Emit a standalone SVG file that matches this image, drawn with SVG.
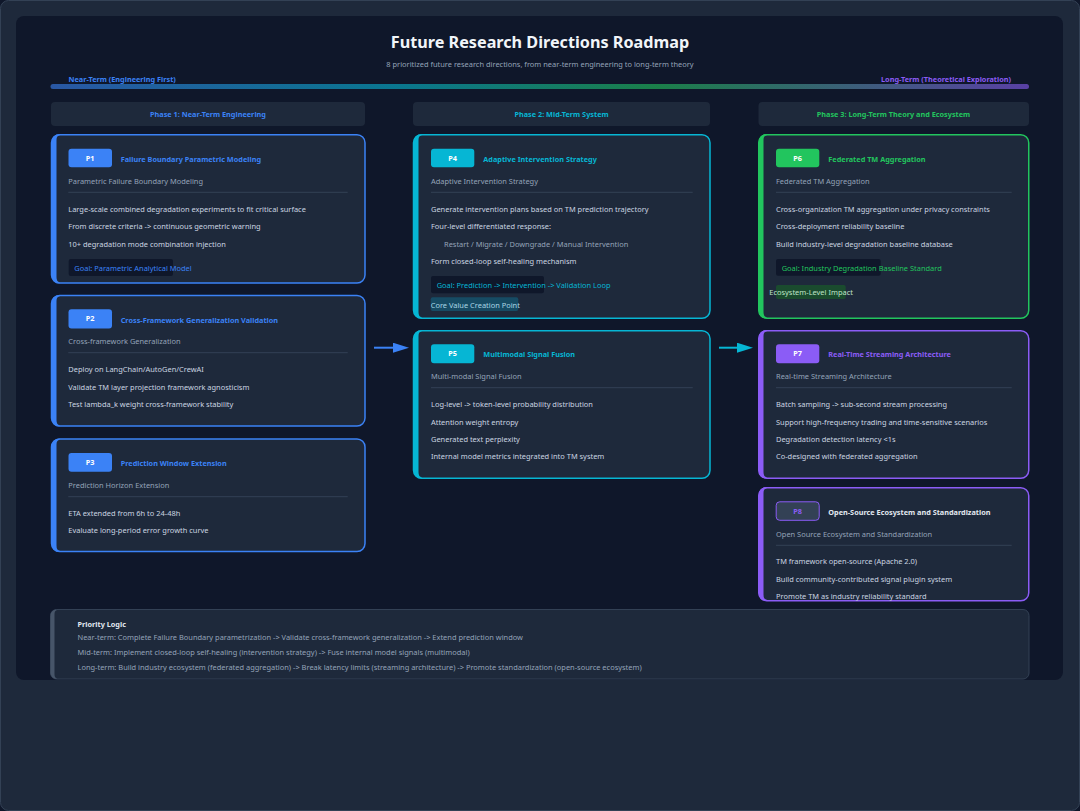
<svg xmlns="http://www.w3.org/2000/svg" width="1080" height="811" viewBox="0 0 1080 811">
<defs>
<linearGradient id="gbar" x1="0" y1="0" x2="1" y2="0">
<stop offset="0" stop-color="#3b82f6" stop-opacity="0.6"/>
<stop offset="0.35" stop-color="#06b6d4" stop-opacity="0.6"/>
<stop offset="0.62" stop-color="#22c55e" stop-opacity="0.6"/>
<stop offset="1" stop-color="#8b5cf6" stop-opacity="0.6"/>
</linearGradient>
<marker id="ahB" markerUnits="userSpaceOnUse" markerWidth="16" markerHeight="10" refX="7" refY="5" orient="auto"><path d="M0,0 L16,5 L0,10 Z" fill="#3b82f6"/></marker>
<marker id="ahC" markerUnits="userSpaceOnUse" markerWidth="16" markerHeight="10" refX="7" refY="5" orient="auto"><path d="M0,0 L16,5 L0,10 Z" fill="#06b6d4"/></marker>
<style>
text{font-family:"Noto Sans","Open Sans","Liberation Sans",sans-serif;font-size:7.45px}
.card{fill:#1e293b;stroke-width:1.5}
.bold{font-weight:700;font-size:7.3px}
.sub{fill:#94a3b8}
.item{fill:#cbd5e1}
.div{stroke:#334155;stroke-width:1}
.badge-t{fill:#ffffff;font-weight:700;font-size:7.3px;text-anchor:middle}
.ph{fill:#1e293b}
.pht{font-weight:700;font-size:7.3px;text-anchor:middle}
.goal{fill:#0f172a}
.blue{fill:#3b82f6}.cyan{fill:#06b6d4}.green{fill:#22c55e}.purple{fill:#8b5cf6}
.sblue{stroke:#3b82f6}.scyan{stroke:#06b6d4}.sgreen{stroke:#22c55e}.spurple{stroke:#8b5cf6}
.title{font-size:16.2px;font-weight:700;fill:#f1f5f9;text-anchor:middle}
</style>
</defs>

<rect x="0" y="0" width="1080" height="811" fill="#0f172a"/>
<rect x="0.5" y="0.5" width="1079" height="810" rx="8" fill="#1e293b" stroke="#334155"/>
<rect x="16" y="16" width="1047" height="664" rx="8" fill="#0f172a"/>

<g id="header">
<text x="540" y="47.5" class="title">Future Research Directions Roadmap</text>
<text x="540" y="67" text-anchor="middle" class="sub">8 prioritized future research directions, from near-term engineering to long-term theory</text>
<rect x="50.5" y="84" width="978.5" height="5" rx="2.5" fill="url(#gbar)"/>
<text x="68.5" y="82" class="bold blue">Near-Term (Engineering First)</text>
<text x="1011" y="82" class="bold purple" text-anchor="end">Long-Term (Theoretical Exploration)</text>
</g>

<g id="phases">
<rect class="ph" x="51" y="102" width="314" height="24" rx="4"/>
<text class="pht blue" x="208" y="117">Phase 1: Near-Term Engineering</text>
<rect class="ph" x="413" y="102" width="297" height="24" rx="4"/>
<text class="pht cyan" x="561.5" y="117">Phase 2: Mid-Term System</text>
<rect class="ph" x="758.5" y="102" width="270.5" height="24" rx="4"/>
<text class="pht green" x="893.5" y="117">Phase 3: Long-Term Theory and Ecosystem</text>
</g>

<g id="connectors">
<line x1="374" y1="347.7" x2="400" y2="347.7" stroke="#3b82f6" stroke-width="2" marker-end="url(#ahB)"/>
<line x1="719" y1="347.7" x2="744" y2="347.7" stroke="#06b6d4" stroke-width="2" marker-end="url(#ahC)"/>
</g>

<g id="P1">
<rect class="card sblue" x="51.5" y="134.75" width="313.5" height="148.25" rx="8"/>
<path class="blue" d="M59.5,134 A8,8 0 0 0 51.5,142 V275 A8,8 0 0 0 59.5,283.5 V282 Q56.5,282 56.5,277 V140 Q56.5,135.5 59.5,135.5 Z"/>
<rect class="blue" x="68.5" y="148.7" width="43.5" height="18.6" rx="3"/>
<text class="badge-t" x="90.2" y="160.5">P1</text>
<text class="bold blue" x="120.7" y="161.7">Failure Boundary Parametric Modeling</text>
<text class="sub" x="68.3" y="184.2">Parametric Failure Boundary Modeling</text>
<line class="div" x1="68.3" y1="192.3" x2="347.7" y2="192.3"/>
<text class="item" x="68.3" y="211.8">Large-scale combined degradation experiments to fit critical surface</text>
<text class="item" x="68.3" y="229.2">From discrete criteria -&gt; continuous geometric warning</text>
<text class="item" x="68.3" y="246.8">10+ degradation mode combination injection</text>
<rect class="goal" x="68.7" y="259" width="104.3" height="17" rx="2"/>
<text class="blue" x="74.3" y="270.5">Goal: Parametric Analytical Model</text>
</g>

<g id="P2">
<rect class="card sblue" x="51.5" y="295.5" width="313.5" height="130.5" rx="8"/>
<path class="blue" d="M59.5,295 A8,8 0 0 0 51.5,303 V418 A8,8 0 0 0 59.5,426.5 V425 Q56.5,425 56.5,420 V301 Q56.5,296.5 59.5,296.5 Z"/>
<rect class="blue" x="68.5" y="309.3" width="43.5" height="19.2" rx="3"/>
<text class="badge-t" x="90.2" y="321.4">P2</text>
<text class="bold blue" x="120.7" y="322.5">Cross-Framework Generalization Validation</text>
<text class="sub" x="68.3" y="343.8">Cross-framework Generalization</text>
<line class="div" x1="68.3" y1="352.7" x2="347.7" y2="352.7"/>
<text class="item" x="68.3" y="372.2">Deploy on LangChain/AutoGen/CrewAI</text>
<text class="item" x="68.3" y="389.8">Validate TM layer projection framework agnosticism</text>
<text class="item" x="68.3" y="406.8">Test lambda_k weight cross-framework stability</text>
</g>

<g id="P3">
<rect class="card sblue" x="51.5" y="439" width="313.5" height="112.5" rx="8"/>
<path class="blue" d="M59.5,438.5 A8,8 0 0 0 51.5,446.5 V544 A8,8 0 0 0 59.5,552 V550.5 Q56.5,550.5 56.5,545.5 V444.5 Q56.5,440 59.5,440 Z"/>
<rect class="blue" x="68.5" y="453" width="43.5" height="18.7" rx="3"/>
<text class="badge-t" x="90.2" y="465">P3</text>
<text class="bold blue" x="120.7" y="465.8">Prediction Window Extension</text>
<text class="sub" x="68.3" y="487.5">Prediction Horizon Extension</text>
<line class="div" x1="68.3" y1="496.7" x2="347.7" y2="496.7"/>
<text class="item" x="68.3" y="515.5">ETA extended from 6h to 24-48h</text>
<text class="item" x="68.3" y="532.8">Evaluate long-period error growth curve</text>
</g>

<g id="P4">
<rect class="card scyan" x="413.5" y="134.75" width="296.5" height="183.5" rx="8"/>
<path class="cyan" d="M421.5,134 A8,8 0 0 0 413.5,142 V310.5 A8,8 0 0 0 421.5,318.5 V317 Q418.5,317 418.5,312 V140 Q418.5,135.5 421.5,135.5 Z"/>
<rect class="cyan" x="431" y="148.7" width="43.3" height="18.6" rx="3"/>
<text class="badge-t" x="452.6" y="160.5">P4</text>
<text class="bold cyan" x="483.3" y="161.7">Adaptive Intervention Strategy</text>
<text class="sub" x="431" y="184.2">Adaptive Intervention Strategy</text>
<line class="div" x1="431" y1="192.3" x2="692.7" y2="192.3"/>
<text class="item" x="431" y="212.2">Generate intervention plans based on TM prediction trajectory</text>
<text class="item" x="431" y="229.2">Four-level differentiated response:</text>
<text class="sub" x="444" y="246.8">Restart / Migrate / Downgrade / Manual Intervention</text>
<text class="item" x="431" y="263.8">Form closed-loop self-healing mechanism</text>
<rect class="goal" x="431" y="276" width="113" height="17.3" rx="2"/>
<text class="cyan" x="436.7" y="287.8">Goal: Prediction -&gt; Intervention -&gt; Validation Loop</text>
<rect x="430.7" y="297.3" width="87.6" height="13.7" rx="2" fill="#164b64"/>
<text x="430.7" y="307.8" fill="#a9d6e5">Core Value Creation Point</text>
</g>

<g id="P5">
<rect class="card scyan" x="413.5" y="330.75" width="296.5" height="147.5" rx="8"/>
<path class="cyan" d="M421.5,330 A8,8 0 0 0 413.5,338 V470.5 A8,8 0 0 0 421.5,478.5 V477 Q418.5,477 418.5,472 V336 Q418.5,331.5 421.5,331.5 Z"/>
<rect class="cyan" x="431" y="344.3" width="43.3" height="19" rx="3"/>
<text class="badge-t" x="452.6" y="356.3">P5</text>
<text class="bold cyan" x="483.3" y="357">Multimodal Signal Fusion</text>
<text class="sub" x="431" y="378.8">Multi-modal Signal Fusion</text>
<line class="div" x1="431" y1="387.7" x2="692.7" y2="387.7"/>
<text class="item" x="431" y="406.5">Log-level -&gt; token-level probability distribution</text>
<text class="item" x="431" y="424.5">Attention weight entropy</text>
<text class="item" x="431" y="441.5">Generated text perplexity</text>
<text class="item" x="431" y="459.3">Internal model metrics integrated into TM system</text>
</g>

<g id="P6">
<rect class="card sgreen" x="758.75" y="134.75" width="270" height="183.5" rx="8"/>
<path class="green" d="M766.5,134 A8,8 0 0 0 758.5,142 V310.5 A8,8 0 0 0 766.5,318.5 V317 Q763.5,317 763.5,312 V140 Q763.5,135.5 766.5,135.5 Z"/>
<rect class="green" x="776" y="148.7" width="43.3" height="18.6" rx="3"/>
<text class="badge-t" x="797.6" y="160.5">P6</text>
<text class="bold green" x="828.3" y="161.7">Federated TM Aggregation</text>
<text class="sub" x="776" y="184.2">Federated TM Aggregation</text>
<line class="div" x1="776" y1="192.3" x2="1011.7" y2="192.3"/>
<text class="item" x="776" y="211.8">Cross-organization TM aggregation under privacy constraints</text>
<text class="item" x="776" y="228.8">Cross-deployment reliability baseline</text>
<text class="item" x="776" y="246.8">Build industry-level degradation baseline database</text>
<rect class="goal" x="776" y="259" width="104.7" height="16.7" rx="2"/>
<text class="green" x="781.7" y="270.5">Goal: Industry Degradation Baseline Standard</text>
<rect x="776" y="285" width="69.7" height="14" rx="2" fill="#1a4b2e"/>
<text x="769.3" y="294.8" fill="#bfe3c8">Ecosystem-Level Impact</text>
</g>

<g id="P7">
<rect class="card spurple" x="758.75" y="330.75" width="270" height="147.5" rx="8"/>
<path class="purple" d="M766.5,330 A8,8 0 0 0 758.5,338 V470.5 A8,8 0 0 0 766.5,478.5 V477 Q763.5,477 763.5,472 V336 Q763.5,331.5 766.5,331.5 Z"/>
<rect class="purple" x="776" y="344.3" width="43.3" height="19" rx="3"/>
<text class="badge-t" x="797.6" y="356.3">P7</text>
<text class="bold purple" x="828.3" y="357">Real-Time Streaming Architecture</text>
<text class="sub" x="776" y="378.8">Real-time Streaming Architecture</text>
<line class="div" x1="776" y1="387.7" x2="1011.7" y2="387.7"/>
<text class="item" x="776" y="406.5">Batch sampling -&gt; sub-second stream processing</text>
<text class="item" x="776" y="424.5">Support high-frequency trading and time-sensitive scenarios</text>
<text class="item" x="776" y="441.5">Degradation detection latency &lt;1s</text>
<text class="item" x="776" y="459.3">Co-designed with federated aggregation</text>
</g>

<g id="P8">
<rect class="card spurple" x="758.75" y="487.75" width="270" height="113" rx="8"/>
<path class="purple" d="M766.5,487 A8,8 0 0 0 758.5,495 V593 A8,8 0 0 0 766.5,601 V599.5 Q763.5,599.5 763.5,594.5 V493 Q763.5,488.5 766.5,488.5 Z"/>
<rect x="776.2" y="501.8" width="43" height="18.5" rx="3.5" fill="#334155" stroke="#8b5cf6" stroke-width="1"/>
<text class="bold purple" x="797.6" y="513.5" text-anchor="middle">P8</text>
<text class="bold" x="828.3" y="514.8" fill="#e2e8f0">Open-Source Ecosystem and Standardization</text>
<text class="sub" x="776" y="536.5">Open Source Ecosystem and Standardization</text>
<line class="div" x1="776" y1="545.3" x2="1011.7" y2="545.3"/>
<text class="item" x="776" y="563.5">TM framework open-source (Apache 2.0)</text>
<text class="item" x="776" y="581.8">Build community-contributed signal plugin system</text>
<text class="item" x="776" y="598.8">Promote TM as industry reliability standard</text>
</g>

<g id="priority">
<rect x="50.5" y="609.5" width="978.5" height="69.5" rx="6" fill="#1e293b" stroke="#334155" stroke-width="1"/>
<path d="M56.5,609.5 A6,6 0 0 0 50.5,615.5 V673 A6,6 0 0 0 56.5,679 V678 Q54.5,678 54.5,674 V614.5 Q54.5,610.5 56.5,610.5 Z" fill="#475569"/>
<text class="bold" x="77.5" y="626.8" fill="#e2e8f0">Priority Logic</text>
<text class="sub" x="77.5" y="639.8">Near-term: Complete Failure Boundary parametrization -&gt; Validate cross-framework generalization -&gt; Extend prediction window</text>
<text class="sub" x="77.5" y="654.8">Mid-term: Implement closed-loop self-healing (intervention strategy) -&gt; Fuse internal model signals (multimodal)</text>
<text class="sub" x="77.5" y="670">Long-term: Build industry ecosystem (federated aggregation) -&gt; Break latency limits (streaming architecture) -&gt; Promote standardization (open-source ecosystem)</text>
</g>
</svg>
